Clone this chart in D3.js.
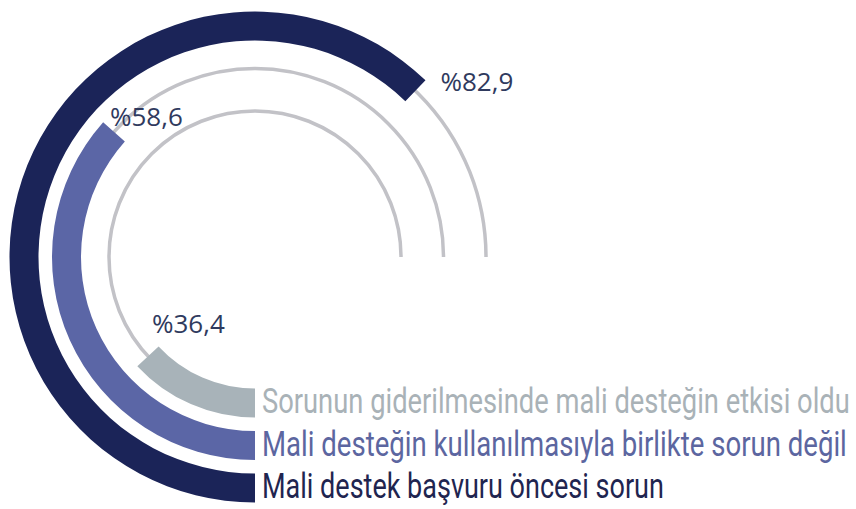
<!DOCTYPE html>
<html>
<head>
<meta charset="utf-8">
<script src="https://cdn.jsdelivr.net/npm/d3@7"></script>
<style>
  body { margin: 0; background: #fff; }
  svg { display: block; }
</style>
</head>
<body>
<div class="chart"></div>
<script>
// outer ring first
let categories = [
    "Mali destek başvuru öncesi sorun",
    "Mali desteğin kullanılmasıyla birlikte sorun değil",
    "Sorunun giderilmesinde mali desteğin etkisi oldu"
]
let values = [82.9, 58.6, 36.4]
let colors = ["#1b2458", "#5b66a6", "#a8b3b9"]
let text_colors = ["#1f2550", "#5c66a0", "#a9b2b7"]

// axis of the gauge (3/4 turn)
let axis_min = 24
let axis_max = 95

let width = 856
let height = 509
let cx = 255
let cy = 257
let bar_w = 29

// layout only: legend text widths and label nudges
let legend_len = [402, 585, 588]
let label_nudge = [[25, 0], [-4, -6], [4, -23]]

let svg = d3.select(".chart")
    .append("svg")
        .attr("width", width)
        .attr("height", height)

let g = svg.append("g")
    .attr("transform", "translate(" + cx + "," + cy + ")")

let angle = d3.scaleLinear()
    .domain([axis_min, axis_max])
    .range([Math.PI, 2.5 * Math.PI])

let radius = d3.scalePoint()
    .domain(categories)
    .range([231, 146])

let fmt = v => "%" + d3.format(".1f")(v).replace(".", ",")

// thin grey tracks
g.selectAll(".track")
    .data(categories)
    .enter()
    .append("path")
        .attr("class", "track")
        .attr("fill", "none")
        .attr("stroke", "#c2c2c7")
        .attr("stroke-width", 3.5)
        .attr("d", d => d3.arc()({
            innerRadius: radius(d),
            outerRadius: radius(d),
            startAngle: angle(axis_min),
            endAngle: angle(axis_max)
        }))

// bars
g.selectAll(".bar")
    .data(categories)
    .enter()
    .append("path")
        .attr("class", "bar")
        .attr("fill", (d, i) => colors[i])
        .attr("d", (d, i) => d3.arc()({
            innerRadius: radius(d) - bar_w / 2,
            outerRadius: radius(d) + bar_w / 2,
            startAngle: angle(axis_min),
            endAngle: angle(values[i])
        }))

// value labels near the bar ends
g.selectAll(".val")
    .data(categories)
    .enter()
    .append("text")
        .attr("class", "val")
        .attr("x", (d, i) => radius(d) * Math.sin(angle(values[i])) + label_nudge[i][0])
        .attr("y", (d, i) => -radius(d) * Math.cos(angle(values[i])) + label_nudge[i][1])
        .attr("font-family", "'Open Sans', sans-serif")
        .attr("font-size", 26)
        .attr("fill", "#2f3a5e")
        .text((d, i) => fmt(values[i]))

// legend lines at the start of each ring, squeezed to look condensed
g.selectAll(".leg")
    .data(categories)
    .enter()
    .append("text")
        .attr("class", "leg")
        .attr("font-family", "Roboto, sans-serif")
        .attr("font-weight", 400)
        .attr("font-size", 35)
        .attr("fill", (d, i) => text_colors[i])
        .text(d => d)
        .each(function(d, i) {
            let len = this.getComputedTextLength()
            d3.select(this).attr("transform",
                "translate(7," + (radius(d) + 10) + ") scale(" + (legend_len[i] / len) + ",1)")
        })
</script>
</body>
</html>
